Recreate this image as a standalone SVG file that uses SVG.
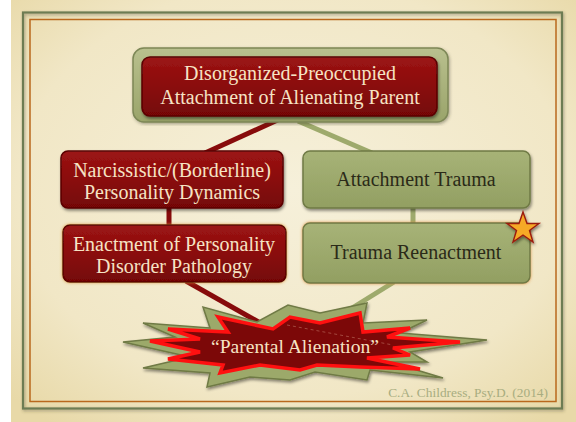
<svg xmlns="http://www.w3.org/2000/svg" width="576" height="422" viewBox="0 0 576 422">
<defs>
<radialGradient id="parch" cx="0.5" cy="0.45" r="0.7">
<stop offset="0" stop-color="#f6f0da"/>
<stop offset="0.7" stop-color="#f1e7c6"/>
<stop offset="1" stop-color="#e8d9a8"/>
</radialGradient>
<linearGradient id="redg" x1="0" y1="0" x2="0" y2="1">
<stop offset="0" stop-color="#9c1414"/>
<stop offset="0.5" stop-color="#8a0c0c"/>
<stop offset="1" stop-color="#740606"/>
</linearGradient>
<linearGradient id="greeng" x1="0" y1="0" x2="0" y2="1">
<stop offset="0" stop-color="#a7b377"/>
<stop offset="1" stop-color="#929f62"/>
</linearGradient>
<linearGradient id="frameg" x1="0" y1="0" x2="0" y2="1">
<stop offset="0" stop-color="#b9c08e"/>
<stop offset="1" stop-color="#9aa46a"/>
</linearGradient>
<filter id="sh" x="-10%" y="-10%" width="130%" height="140%">
<feDropShadow dx="1" dy="2" stdDeviation="1.6" flood-color="#000" flood-opacity="0.45"/>
</filter>
<filter id="glow" x="-10%" y="-15%" width="120%" height="135%">
<feDropShadow dx="0" dy="0" stdDeviation="1.5" flood-color="#d98a35" flood-opacity="0.9"/>
</filter>
<filter id="fsh" x="-5%" y="-5%" width="110%" height="110%">
<feDropShadow dx="1" dy="1.5" stdDeviation="1.5" flood-color="#3b3a20" flood-opacity="0.4"/>
</filter>
</defs>
<style>
.t{font-family:"Liberation Serif","Times New Roman",serif;text-anchor:middle}
.cream{fill:#f6e3c4;font-size:20px}
.dark{fill:#2b2a18;font-size:20px}
.red{fill:url(#redg);stroke:#5a0404;stroke-width:1.5}
.grn{fill:url(#greeng);stroke:#6f7a45;stroke-width:1.5}
.rline{stroke:#870b0b;stroke-width:5;fill:none}
.gline{stroke:#9eaa6c;stroke-width:5;fill:none}
</style>

<rect x="11" y="0" width="565" height="422" fill="url(#parch)"/>
<rect x="23" y="12.5" width="539" height="396" fill="none" stroke="#6d7b52" stroke-width="2.2" filter="url(#fsh)"/>
<rect x="30" y="19.5" width="526" height="382" fill="none" stroke="#b9681d" stroke-width="1.5"/>

<g id="connectors">
<line class="rline" x1="282" y1="118" x2="205" y2="153"/>
<line class="gline" x1="298" y1="121" x2="372" y2="153"/>
<line class="rline" x1="169" y1="206" x2="169" y2="227" stroke-width="4"/>
<line class="gline" x1="413" y1="206" x2="413" y2="225" stroke-width="4"/>
<line class="rline" x1="186" y1="281" x2="262" y2="324"/>
<line class="gline" x1="394" y1="282" x2="336" y2="318"/>
</g>

<g id="top">
<rect x="133" y="48" width="315" height="74" rx="11" fill="url(#frameg)" stroke="#7d8756" stroke-width="1.5" filter="url(#fsh)"/>
<rect class="red" x="142" y="57" width="295" height="59" rx="8" filter="url(#sh)"/>
<text class="t cream" x="290" y="80">Disorganized-Preoccupied</text>
<text class="t cream" x="290" y="104">Attachment of Alienating Parent</text>
</g>

<g id="narc">
<rect class="red" x="61" y="151" width="222" height="57" rx="7" filter="url(#sh)"/>
<text class="t cream" x="172" y="177">Narcissistic/(Borderline)</text>
<text class="t cream" x="172" y="199">Personality Dynamics</text>
</g>

<g id="enact">
<rect class="red" x="63" y="225" width="223" height="57" rx="7" stroke="#c9772c" filter="url(#glow)"/>
<text class="t cream" x="174" y="251">Enactment of Personality</text>
<text class="t cream" x="174" y="273">Disorder Pathology</text>
</g>

<g id="attach">
<rect class="grn" x="303" y="151" width="227" height="57" rx="7" filter="url(#sh)"/>
<text class="t dark" x="416" y="186">Attachment Trauma</text>
</g>

<g id="reenact">
<rect class="grn" x="303" y="223" width="227" height="60" rx="7" stroke="#c9803a" filter="url(#glow)"/>
<text class="t dark" x="416" y="259">Trauma Reenactment</text>
<polygon points="523,212 527,223.5 539,223.5 529.5,230.5 533,242 523,235 513,242 516.5,230.5 507,223.5 519,223.5" fill="#f6a928" stroke="#9b1a0e" stroke-width="1.4" stroke-linejoin="miter" filter="url(#sh)"/>
</g>

<g id="burst">
<polygon points="123,342 175,337 143,323 210,328 203,307 257,322 288,305 320,313 367,303 363,323 427,320 400,333 487,340 410,352 427,362 390,362 443,378 370,370 367,380 315,372 290,380 250,377 207,387 210,373 143,368 190,357" fill="#9ca96b" stroke="#6f7a45" stroke-width="1.5" filter="url(#sh)"/>
<polygon points="150,341 200,339 168,329 228,332 218,317 273,329 290,317 320,323 360,313 363,332 410,328 387,337 460,342 393,348 410,355 367,358 420,369 360,367 317,365 300,370 260,365 220,373 223,365 168,359 200,352" fill="#7c0808" stroke="#ff1010" stroke-width="3.5" stroke-linejoin="miter"/>
<line x1="287" y1="325" x2="393" y2="345" stroke="#c27a6a" stroke-width="0.8" stroke-dasharray="3,3" opacity="0.7"/>
<text class="t" x="295" y="353" fill="#f6e3c4" font-size="19.6">“Parental Alienation”</text>
</g>

<text x="548" y="397" font-family="'Liberation Serif','Times New Roman',serif" font-size="13.4" fill="#a8ad80" text-anchor="end">C.A. Childress, Psy.D. (2014)</text>
</svg>
